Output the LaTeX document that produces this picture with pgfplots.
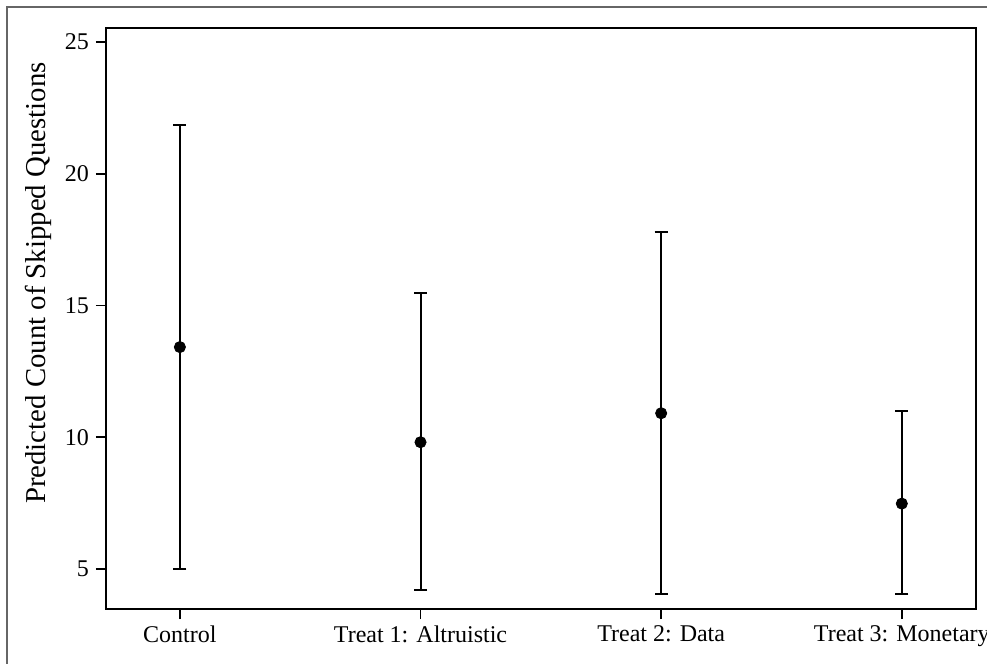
\documentclass[border=0pt]{standalone}
\usepackage{fontspec}
\setmainfont{Liberation Serif}
\usepackage{pgfplots}
\pgfplotsset{compat=1.18}

% point estimate with upper and lower distance to the interval ends
\pgfplotstableread{
x  y      ep    em
0  13.42  8.44  8.41
1  9.81   5.66  5.62
2  10.91  6.89  6.86
3  7.48   3.50  3.44
}\predcount

\begin{document}
\begin{tikzpicture}
\path[use as bounding box] (0pt,0pt) rectangle (493.5pt,-332pt);
% outer frame of the figure
\draw[line width=1pt, black!60] (3.5pt,-332pt) -- (3.5pt,-3.5pt) -- (493.5pt,-3.5pt);
\begin{axis}[
  at={(53pt,-304.5pt)}, anchor=south west,
  scale only axis,
  width=434.85pt, height=290.5pt,
  xmin=-0.307, xmax=3.307,
  ymin=3.48, ymax=25.53,
  xtick={0,1,2,3},
  xticklabels={Control, Treat 1: Altruistic, Treat 2: Data, Treat 3: Monetary},
  ytick={5,10,15,20,25},
  xtick pos=bottom, ytick pos=left,
  tick align=outside,
  major tick length=5pt,
  axis line style={line width=1pt},
  every tick/.style={black, line width=0.8pt},
  tick label style={font=\fontsize{12}{14}\selectfont},
  /pgf/number format/assume math mode=true,
  ylabel={Predicted Count of Skipped Questions},
  ylabel style={font=\fontsize{14.4}{16}\selectfont,
    at={(axis description cs:-0.0701,0.561)}, anchor=base},
]
\addplot[only marks, mark=*, mark size=2.8pt, black,
  error bars/.cd, y dir=both, y explicit,
  error bar style={line width=1pt},
  error mark options={line width=1pt, mark size=3.25pt, rotate=90}]
  table[x=x, y=y, y error plus=ep, y error minus=em] {\predcount};
\end{axis}
\end{tikzpicture}
\end{document}
